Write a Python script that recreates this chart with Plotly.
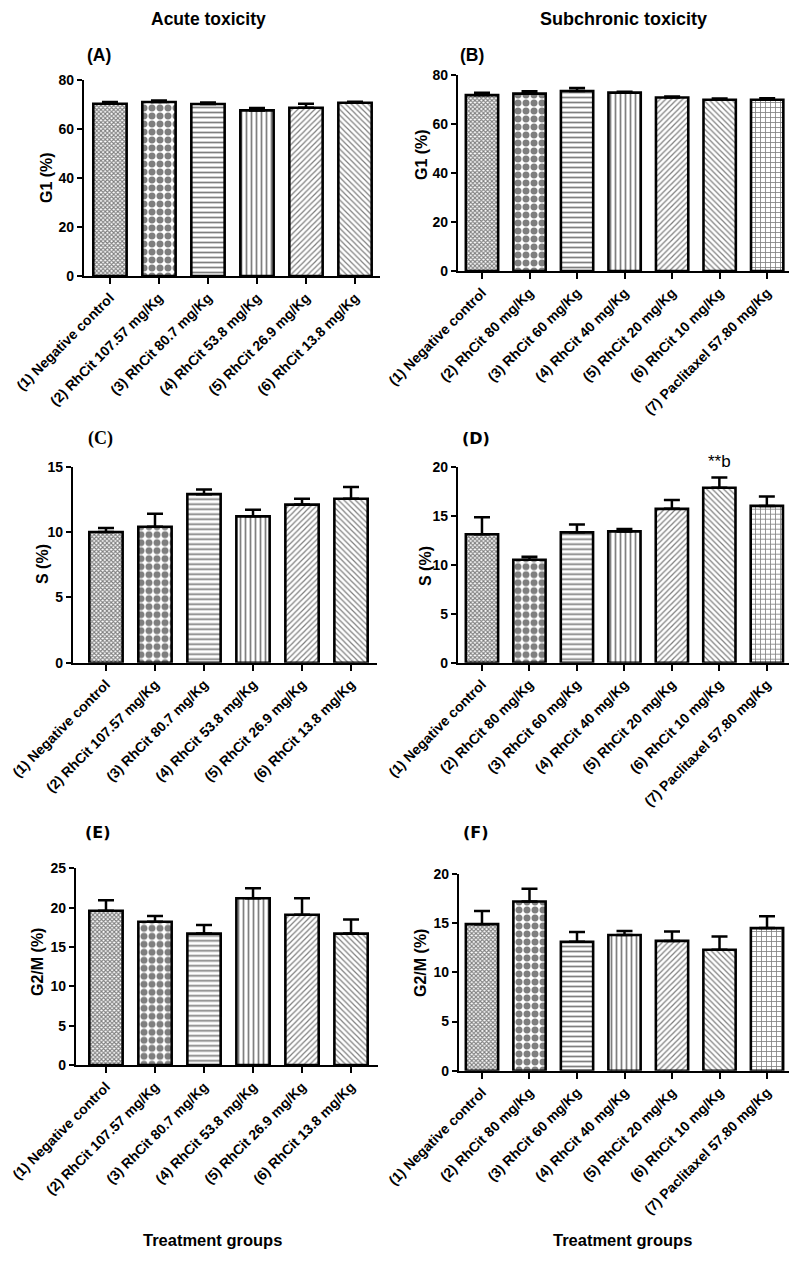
import plotly.graph_objects as go

# page offset compensation (browser body margin of 8px)
OFF = 8
W, H = 789, 1245

acute_labels = ["(1) Negative control", "(2) RhCit 107.57 mg/Kg", "(3) RhCit 80.7 mg/Kg",
                "(4) RhCit 53.8 mg/Kg", "(5) RhCit 26.9 mg/Kg", "(6) RhCit 13.8 mg/Kg"]
sub_labels = ["(1) Negative control", "(2) RhCit 80 mg/Kg", "(3) RhCit 60 mg/Kg",
              "(4) RhCit 40 mg/Kg", "(5) RhCit 20 mg/Kg", "(6) RhCit 10 mg/Kg",
              "(7) Paclitaxel 57.80 mg/Kg"]

g1_acute = [70.3, 71.0, 70.2, 67.6, 68.7, 70.7]
g1_acute_err = [0.7, 0.6, 0.6, 1.0, 1.6, 0.4]
g1_sub = [71.8, 72.4, 73.5, 72.8, 70.8, 69.9, 69.9]
g1_sub_err = [1.0, 1.0, 1.2, 0.4, 0.4, 0.5, 0.6]

s_acute = [10.0, 10.4, 12.9, 11.2, 12.1, 12.55]
s_acute_err = [0.3, 1.0, 0.35, 0.5, 0.45, 0.9]
s_sub = [13.1, 10.5, 13.3, 13.4, 15.7, 17.85, 16.0]
s_sub_err = [1.75, 0.3, 0.8, 0.25, 0.9, 1.05, 0.95]

g2m_acute = [19.6, 18.2, 16.7, 21.2, 19.1, 16.7]
g2m_acute_err = [1.35, 0.75, 1.1, 1.25, 2.1, 1.8]
g2m_sub = [14.9, 17.2, 13.1, 13.8, 13.2, 12.3, 14.5]
g2m_sub_err = [1.35, 1.3, 1.0, 0.4, 0.95, 1.35, 1.2]

patterns = [
    dict(shape="x", size=3, solidity=0.6),
    dict(shape=".", size=8, solidity=0.6),
    dict(shape="-", size=5, solidity=0.35),
    dict(shape="|", size=5, solidity=0.35),
    dict(shape="/", size=4, solidity=0.3),
    dict(shape="\\", size=4, solidity=0.3),
    dict(shape="+", size=5, solidity=0.3),
]

BOLD = "Liberation Sans"

panels = [
    dict(labels=acute_labels, vals=g1_acute, err=g1_acute_err, px=(84, 380), py=(80, 276),
         xr=[-0.53, 5.51], yr=[0, 80], dt=20),
    dict(labels=sub_labels, vals=g1_sub, err=g1_sub_err, px=(458, 790), py=(75, 271),
         xr=[-0.505, 6.48], yr=[0, 80], dt=20),
    dict(labels=acute_labels, vals=s_acute, err=s_acute_err, px=(73, 377), py=(466.7, 662.7),
         xr=[-0.673, 5.53], yr=[0, 15], dt=5),
    dict(labels=sub_labels, vals=s_sub, err=s_sub_err, px=(458, 792), py=(466.7, 662.7),
         xr=[-0.505, 6.53], yr=[0, 20], dt=5),
    dict(labels=acute_labels, vals=g2m_acute, err=g2m_acute_err, px=(76, 378), py=(868.3, 1065),
         xr=[-0.612, 5.55], yr=[0, 25], dt=5),
    dict(labels=sub_labels, vals=g2m_sub, err=g2m_sub_err, px=(459, 791), py=(874, 1070.7),
         xr=[-0.484, 6.505], yr=[0, 20], dt=5),
]

def fx(px):
    return (px - OFF) / W

def fy(py):
    return 1 - (py - OFF) / H

fig = go.Figure()
layout = dict(width=W, height=H, margin=dict(l=0, r=0, t=0, b=0, autoexpand=False),
              paper_bgcolor="white", plot_bgcolor="white", showlegend=False)

for i, p in enumerate(panels):
    n = len(p["vals"])
    xs = list(range(n))
    ax = "" if i == 0 else str(i + 1)
    for k in range(n):
        fig.add_trace(go.Bar(
            x=[xs[k]], y=[p["vals"][k]], width=0.68,
            xaxis="x" + ax, yaxis="y" + ax, cliponaxis=False,
            marker=dict(color="white", line=dict(color="black", width=2.6),
                        pattern=dict(fgcolor="black", bgcolor="white", fillmode="overlay",
                                     **patterns[k])),
            error_y=dict(type="data", symmetric=False, array=[p["err"][k]], arrayminus=[0],
                         color="black", thickness=2.5, width=8),
        ))
    layout["xaxis" + ax] = dict(
        domain=[fx(p["px"][0]), min(1.0, fx(p["px"][1]))], anchor="y" + ax, automargin=False,
        range=p["xr"], tickmode="array", tickvals=xs, ticktext=p["labels"],
        tickangle=-45, showline=True, linecolor="black", linewidth=2.2,
        ticks="outside", ticklen=6, tickwidth=2, tickcolor="black",
        ticklabeloverflow="allow",
        showgrid=False, zeroline=False, fixedrange=True,
        tickfont=dict(family=BOLD, size=14, color="black", weight="bold"))
    layout["yaxis" + ax] = dict(
        domain=[fy(p["py"][1]), fy(p["py"][0])], anchor="x" + ax, automargin=False,
        range=p["yr"], dtick=p["dt"], tick0=0, showline=True, linecolor="black",
        linewidth=2.2, ticks="outside", ticklen=5, tickwidth=2, tickcolor="black",
        showgrid=False, zeroline=False, fixedrange=True,
        tickfont=dict(family=BOLD, size=14, color="black", weight="bold"))

fig.update_layout(**layout)

anns = []
def txt(x, y, s, size, family=BOLD, angle=0):
    anns.append(dict(x=fx(x), y=fy(y), xref="paper", yref="paper", text=s,
                     showarrow=False, textangle=angle, xanchor="center", yanchor="middle",
                     font=dict(family=family, size=size, color="black", weight="bold")))

txt(208, 19, "Acute toxicity", 17.5)
txt(623, 19, "Subchronic toxicity", 18)
txt(99, 55, "(A)", 17.5)
txt(472, 55, "(B)", 17.5)
txt(100, 438, "(C)", 18, family="Liberation Serif")
txt(476, 438, "(D)", 16, family="DejaVu Sans")
txt(98, 832, "(E)", 16, family="DejaVu Sans")
txt(476, 832, "(F)", 16, family="DejaVu Sans")

txt(46, 178, "G1 (%)", 16, angle=-90)
txt(422, 155, "G1 (%)", 16, angle=-90)
txt(42, 564, "S (%)", 16, angle=-90)
txt(425, 566, "S (%)", 16, angle=-90)
txt(37, 962, "G2/M (%)", 16, angle=-90)
txt(420, 963, "G2/M (%)", 16, angle=-90)

txt(212, 1240, "Treatment groups", 16.5)
txt(622, 1240, "Treatment groups", 16.5)

anns.append(dict(x=5, y=s_sub[5] + s_sub_err[5], xref="x4", yref="y4", text="**b",
                 showarrow=False, yshift=16, xanchor="center", yanchor="middle",
                 font=dict(family="Liberation Sans", size=17, color="black")))

fig.update_layout(annotations=anns)
fig.write_html("out.html")
